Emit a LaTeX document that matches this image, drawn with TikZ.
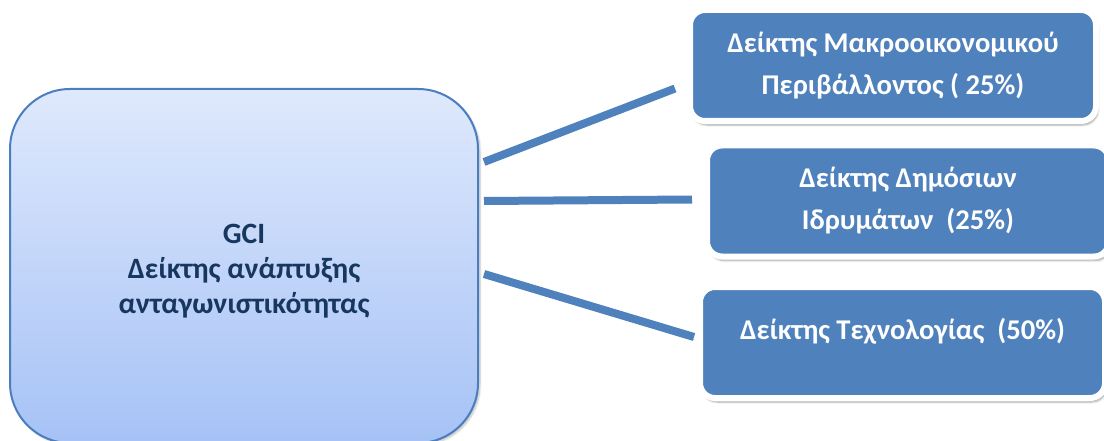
\documentclass[tikz,border=0pt]{standalone}
\usepackage{fontspec}
\setmainfont{Carlito}
\usetikzlibrary{shadows.blur}

\definecolor{boxblue}{HTML}{4F81BD}
\definecolor{gcitop}{HTML}{DFE9FC}
\definecolor{gcibot}{HTML}{A6C2F6}
\definecolor{gciline}{HTML}{4A7EBF}
\definecolor{gcitext}{HTML}{17375E}

\tikzset{
  gcibox/.style={rectangle, rounded corners=60pt, draw=gciline, line width=2pt,
    top color=gcitop, bottom color=gcibot, minimum width=468pt, minimum height=354pt,
    blur shadow={shadow xshift=2pt, shadow yshift=-2pt, shadow blur steps=6, shadow opacity=25}},
  gcilabel/.style={align=center, text=gcitext, font=\fontsize{29.5}{35}\selectfont\bfseries},
  subbox/.style={rectangle, rounded corners=15pt, fill=boxblue, draw=white, line width=6pt,
    minimum height=111pt, align=center, text=white, font=\fontsize{28.6}{42}\selectfont\bfseries,
    blur shadow={shadow xshift=2pt, shadow yshift=-4pt, shadow blur steps=6, shadow opacity=35}},
  link/.style={line width=8pt, draw=boxblue,
    preaction={draw=black, opacity=.15, transform canvas={shift={(1pt,-3pt)}}}}
}

\begin{document}
\begin{tikzpicture}[x=1pt, y=-1pt]
  \useasboundingbox (0,0) rectangle (1104,441);

  % left: main index
  \node[gcibox] (gci) at (244,266) {};
  \node[gcilabel] (gcitxt) at ([yshift=-5pt]gci.center) {GCI\\Δείκτης ανάπτυξης\\ανταγωνιστικότητας};

  % right: the three sub-indices
  \node[subbox, minimum width=406pt] (macro) at (893,65.5)
    {Δείκτης Μακροοικονομικού\\Περιβάλλοντος ( 25\%)};
  \node[subbox, minimum width=402pt] (inst) at (908,201)
    {Δείκτης Δημόσιων\\Ιδρυμάτων~~(25\%)};
  \node[subbox, minimum width=405pt, text height=20pt, text depth=26pt] (tech) at (902.5,342.5)
    {Δείκτης Τεχνολογίας~~(50\%)};

  % connectors
  \draw[link] ([shift={(5,-104)}]gci.east) -- ([shift={(-12,23)}]macro.west);
  \draw[link] ([shift={(5,-65)}]gci.east) -- ([shift={(-12,-1.5)}]inst.west);
  \draw[link] ([shift={(5,8)}]gci.east) -- ([shift={(-3,-5.5)}]tech.west);
\end{tikzpicture}
\end{document}
